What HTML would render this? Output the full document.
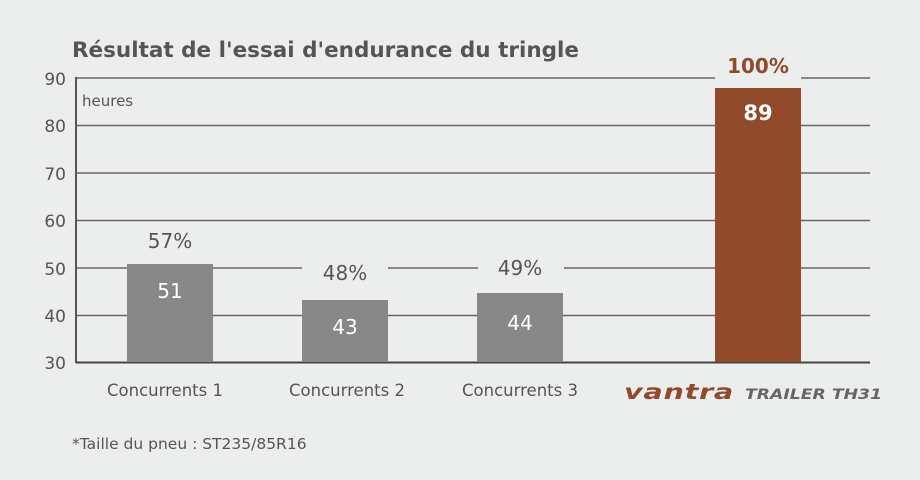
<!DOCTYPE html>
<html><head><meta charset="utf-8"><style>
body{margin:0;width:920px;height:480px;background:#eceeee;font-family:"DejaVu Sans","Liberation Sans",sans-serif;overflow:hidden}
svg{display:block}
</style></head><body>
<svg width="920" height="480" xmlns="http://www.w3.org/2000/svg">
<rect width="920" height="480" fill="#eceeee"/>
<text x="72" y="57" font-family="DejaVu Sans,sans-serif" font-weight="bold" font-size="21.5" fill="#555">Résultat de l'essai d'endurance du tringle</text>
<g stroke="#666" stroke-width="1.5">
<line x1="76" y1="78" x2="870" y2="78"/>
<line x1="76" y1="125.5" x2="870" y2="125.5"/>
<line x1="76" y1="173" x2="870" y2="173"/>
<line x1="76" y1="220.5" x2="870" y2="220.5"/>
<line x1="76" y1="268" x2="870" y2="268"/>
<line x1="76" y1="315.5" x2="870" y2="315.5"/>
</g>
<line x1="76" y1="77" x2="76" y2="363" stroke="#555" stroke-width="2"/>
<line x1="76" y1="362.5" x2="870" y2="362.5" stroke="#444" stroke-width="2"/>
<g font-size="17" fill="#555" text-anchor="end">
<text x="66" y="85">90</text><text x="66" y="132">80</text><text x="66" y="180">70</text>
<text x="66" y="227">60</text><text x="66" y="275">50</text><text x="66" y="322">40</text><text x="66" y="369">30</text>
</g>
<text x="82" y="106" font-size="15" fill="#555">heures</text>
<rect x="302" y="256" width="86" height="30" fill="#eceeee"/>
<rect x="478" y="252" width="86" height="30" fill="#eceeee"/>
<rect x="715" y="50" width="86" height="34" fill="#eceeee"/>
<rect x="127" y="264" width="86" height="98" fill="#888"/>
<rect x="302" y="300" width="86" height="62" fill="#888"/>
<rect x="477" y="293" width="86" height="69" fill="#888"/>
<rect x="715" y="88" width="86" height="274" fill="#924b2a"/>
<g font-size="20" fill="#555" text-anchor="middle">
<text x="170" y="248">57%</text><text x="345" y="280">48%</text><text x="520" y="275">49%</text>
</g>
<g font-size="20" fill="#fff" text-anchor="middle">
<text x="170" y="298">51</text><text x="345" y="334">43</text><text x="520" y="330">44</text>
</g>
<text x="758" y="73" font-size="20" font-weight="bold" fill="#924b2a" text-anchor="middle">100%</text>
<text x="758" y="120" font-size="21" font-weight="bold" fill="#fff" text-anchor="middle">89</text>
<g font-size="16.5" fill="#555" text-anchor="middle">
<text x="165" y="396">Concurrents 1</text><text x="347" y="396">Concurrents 2</text><text x="520" y="396">Concurrents 3</text>
</g>
<text x="624" y="399" font-size="21" font-weight="bold" font-style="italic" fill="#924b2a" letter-spacing="0.5" textLength="110" lengthAdjust="spacingAndGlyphs">vantra</text>
<text x="745" y="399" font-size="14.5" font-weight="bold" font-style="italic" fill="#666" textLength="137" lengthAdjust="spacingAndGlyphs">TRAILER TH31</text>
<text x="72" y="449" font-size="15.5" fill="#555">*Taille du pneu : ST235/85R16</text>
</svg>
</body></html>
